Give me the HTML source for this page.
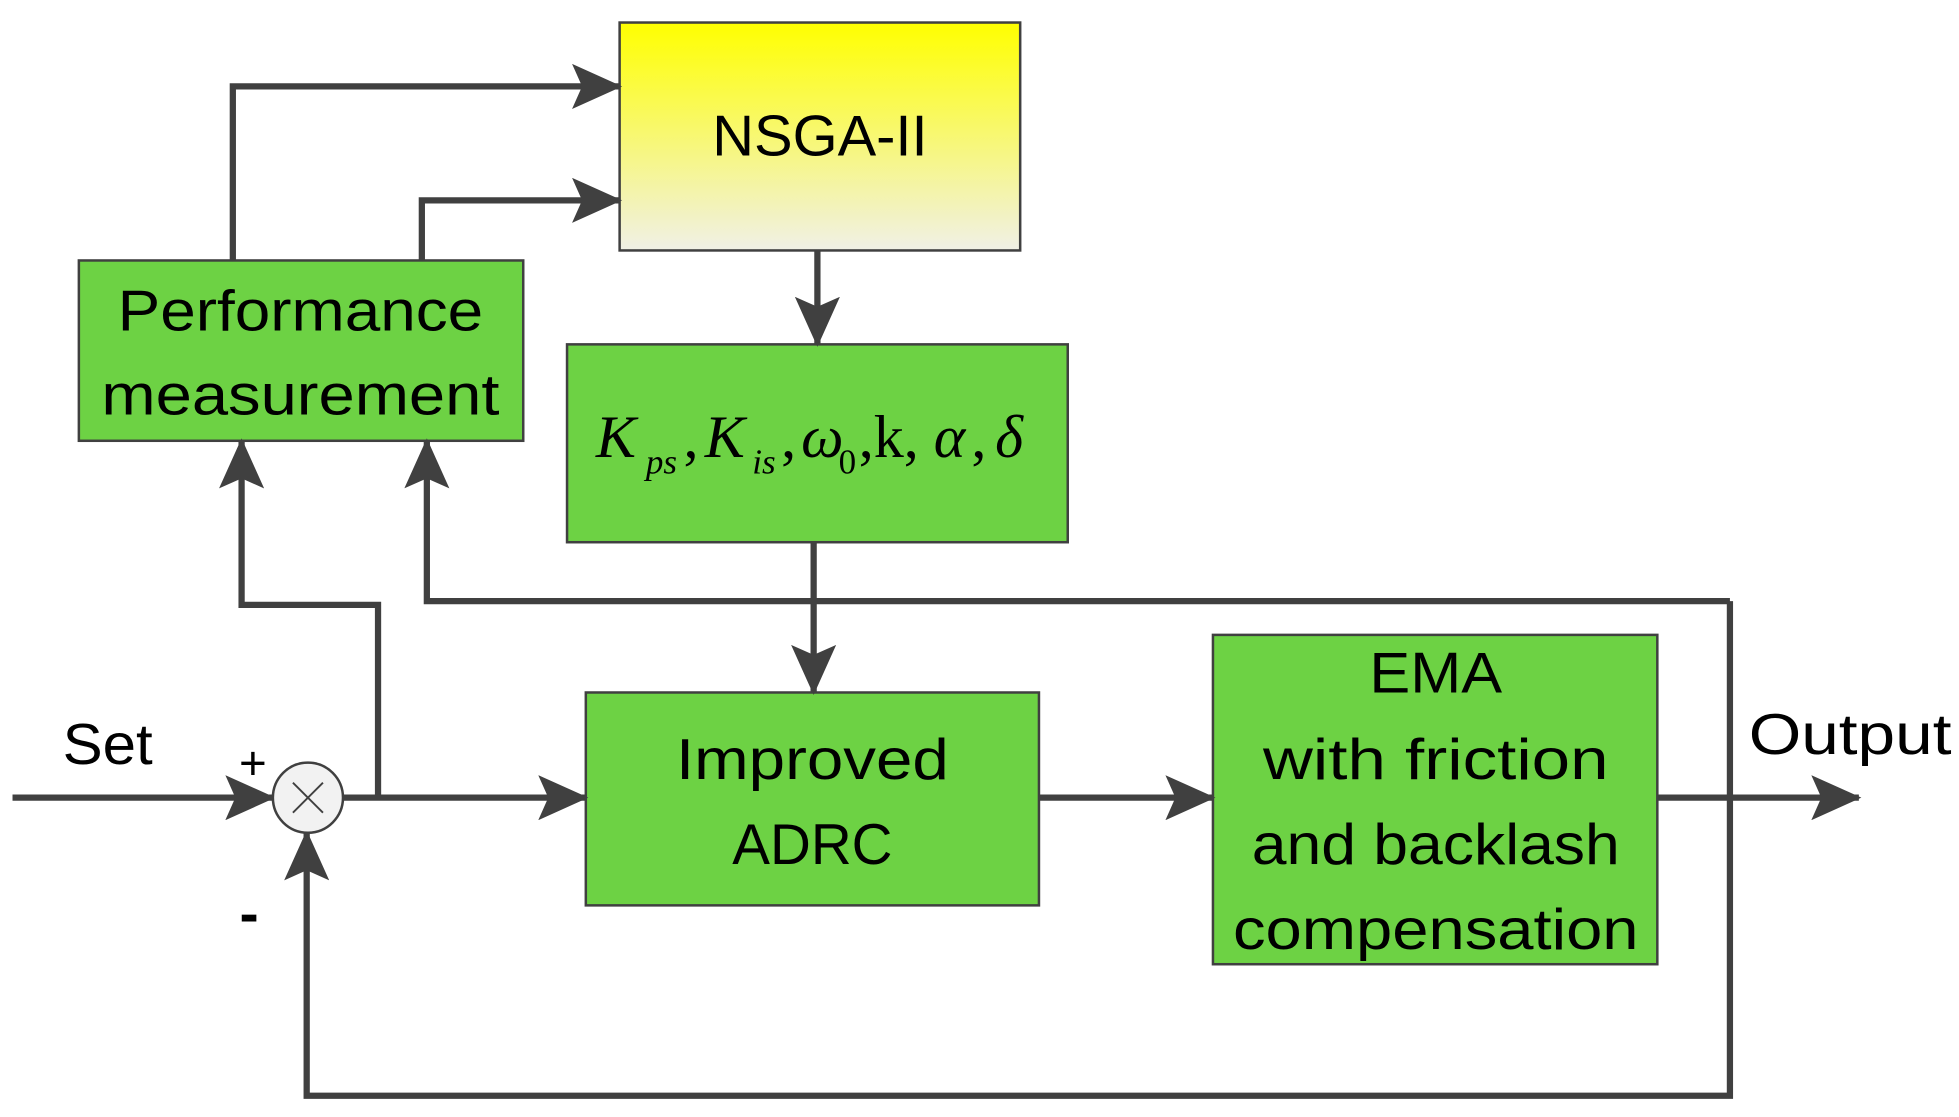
<!DOCTYPE html>
<html><head><style>html,body{margin:0;padding:0;background:#fff;}svg{display:block}</style></head>
<body>
<svg width="1959" height="1117" viewBox="0 0 1565 892" preserveAspectRatio="none" xmlns="http://www.w3.org/2000/svg">
<defs>
<linearGradient id="g" x1="0" y1="0" x2="0" y2="1">
<stop offset="0" stop-color="#ffff00"/><stop offset="1" stop-color="#f0f0e6"/>
</linearGradient>
<marker id="a" viewBox="0 0 40 36" refX="38" refY="18" markerWidth="40" markerHeight="36" markerUnits="userSpaceOnUse" orient="auto">
<path d="M0,0 L40,18 L0,36 L8,18 Z" fill="#404040"/>
</marker>
</defs>
<g fill="#6dd244" stroke="#404040" stroke-width="2">
<rect x="495" y="18" width="320" height="182" fill="url(#g)"/>
<rect x="453" y="275" width="400" height="158"/>
<rect x="63" y="208" width="355" height="144"/>
<rect x="468" y="553" width="362" height="170"/>
<rect x="969" y="507" width="355" height="263"/>
</g>
<g fill="none" stroke="#404040" stroke-width="5">
<line x1="10" y1="637" x2="218" y2="637" marker-end="url(#a)"/>
<line x1="274" y1="637" x2="468" y2="637" marker-end="url(#a)"/>
<polyline points="302,637 302,483 193,483 193,352" marker-end="url(#a)"/>
<line x1="830" y1="637" x2="969" y2="637" marker-end="url(#a)"/>
<line x1="1324" y1="637" x2="1485" y2="637" marker-end="url(#a)"/>
<polyline points="1382,480 1382,875 245,875 245,665" marker-end="url(#a)"/>
<polyline points="1382,480 341,480 341,352" marker-end="url(#a)"/>
<polyline points="186,208 186,69 495,69" marker-end="url(#a)"/>
<polyline points="337,208 337,160 495,160" marker-end="url(#a)"/>
<line x1="653" y1="200" x2="653" y2="275" marker-end="url(#a)"/>
<line x1="650" y1="433" x2="650" y2="553" marker-end="url(#a)"/>
</g>
<circle cx="246" cy="637" r="28" fill="#f2f2f2" stroke="#404040" stroke-width="2"/>
<g stroke="#404040" stroke-width="1.5"><line x1="234" y1="625" x2="258" y2="649"/><line x1="258" y1="625" x2="234" y2="649"/></g>
<g font-family="Liberation Sans, sans-serif" font-size="46" fill="#000" text-anchor="middle">
<text x="655" y="124" textLength="172" lengthAdjust="spacingAndGlyphs">NSGA-II</text>
<text x="240" y="264" textLength="292" lengthAdjust="spacingAndGlyphs">Performance</text>
<text x="240" y="331" textLength="318" lengthAdjust="spacingAndGlyphs">measurement</text>
<text x="649" y="622" textLength="218" lengthAdjust="spacingAndGlyphs">Improved</text>
<text x="649" y="690" textLength="128" lengthAdjust="spacingAndGlyphs">ADRC</text>
<text x="1147" y="553" textLength="106" lengthAdjust="spacingAndGlyphs">EMA</text>
<text x="1147" y="622" textLength="276" lengthAdjust="spacingAndGlyphs">with friction</text>
<text x="1147" y="690" textLength="294" lengthAdjust="spacingAndGlyphs">and backlash</text>
<text x="1147" y="758" textLength="324" lengthAdjust="spacingAndGlyphs">compensation</text>
<text x="86" y="610" textLength="72" lengthAdjust="spacingAndGlyphs">Set</text>
<text x="1478" y="602" textLength="162" lengthAdjust="spacingAndGlyphs">Output</text>
<text x="202" y="622" font-size="38">+</text>
<text x="199" y="745" font-size="46" font-weight="bold">-</text>
</g>
<g font-family="Liberation Serif, serif" font-size="48" fill="#000" font-style="italic">
<text x="476" y="365">K</text>
<text x="516" y="378" font-size="28">ps</text>
<text x="546" y="365" font-style="normal">,</text>
<text x="563" y="365">K</text>
<text x="601" y="378" font-size="28">is</text>
<text x="624" y="365" font-style="normal">,</text>
<text x="640" y="365">ω</text>
<text x="670" y="378" font-size="28" font-style="normal">0</text>
<text x="686" y="365" font-style="normal">,k,</text>
<text x="746" y="365">α</text>
<text x="776" y="365" font-style="normal">,</text>
<text x="795" y="365">δ</text>
</g>
</svg>
</body></html>
